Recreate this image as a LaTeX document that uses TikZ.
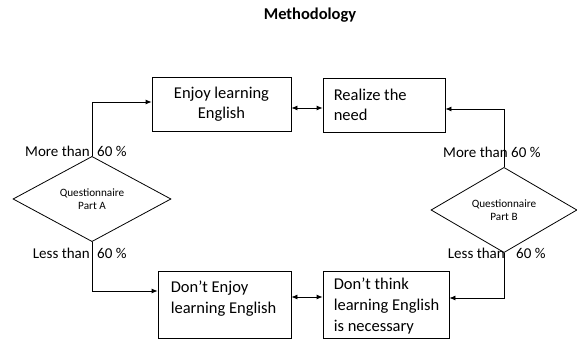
\documentclass[tikz,border=0pt]{standalone}
\usepackage{fontspec}
\setmainfont{Carlito}
\usetikzlibrary{shapes.geometric,arrows.meta}
\begin{document}
\begin{tikzpicture}[x=1pt,y=-1pt,
  boxst/.style={draw,line width=0.8pt,inner sep=0pt},
  txt/.style={inner sep=0pt,align=left,anchor=west,font=\fontsize{16.5}{20.5}\selectfont},
  diam/.style={draw,diamond,line width=0.8pt,inner sep=0pt,font=\fontsize{11.2}{13}\selectfont,align=center},
  lab/.style={font=\fontsize{15}{17}\selectfont,inner sep=0pt},
  conn/.style={line width=0.8pt,-{Latex[length=6pt,width=5pt]}},
  dconn/.style={line width=0.8pt,{Latex[length=6pt,width=5pt]}-{Latex[length=6pt,width=5pt]}}]
\useasboundingbox (0,0) rectangle (577,344);
\node[font=\bfseries\fontsize{16.5}{18}\selectfont] (title) at (310,15) {Methodology};
\node[boxst,minimum width=139pt,minimum height=54pt,align=center,font=\fontsize{16.5}{20.5}\selectfont] (b1) at (221.5,104) {Enjoy learning\\English};
\node[boxst,minimum width=122pt,minimum height=54pt] (b2) at (384,105) {};
\node[txt] (t2) at ([xshift=11pt,yshift=0pt]b2.west) {Realize the\\need};
\node[boxst,minimum width=133pt,minimum height=67pt] (b3) at (224.5,304.5) {};
\node[txt] (t3) at ([xshift=13pt,yshift=6pt]b3.west) {Don’t Enjoy\\learning English};
\node[boxst,minimum width=126pt,minimum height=67pt] (b4) at (386,304.5) {};
\node[txt,font=\fontsize{16.5}{21}\selectfont] (t4) at ([xshift=11pt,yshift=-2pt]b4.west) {Don’t think\\learning English\\is necessary};
\node[diam,minimum width=158pt,minimum height=72pt] (da) at (92,199) {Questionnaire\\Part A};
\node[diam,minimum width=146pt,minimum height=66pt] (db) at (504,210) {Questionnaire\\Part B};
\draw[conn] (da.north) |- (b1.west |- 0,102);
\draw[conn] (da.south) |- (b3.west |- 0,291);
\draw[conn] (db.north) |- (b2.east |- 0,109);
\draw[conn] (db.south) |- (b4.east |- 0,298);
\draw[dconn] (b1.east |- 0,108) -- (b2.west |- 0,108);
\draw[dconn] (b3.east |- 0,297) -- (b4.west |- 0,297);
\node[lab,anchor=east] (l1) at (90,151) {More than};
\node[lab,anchor=west] (l2) at (97,151) {60 \%};
\node[lab,anchor=east] (l3) at (90,253) {Less than};
\node[lab,anchor=west] (l4) at (97,253) {60 \%};
\node[lab,anchor=east] (l5) at (508,152) {More than};
\node[lab,anchor=west] (l6) at (511,152) {60 \%};
\node[lab,anchor=east] (l7) at (505,253) {Less than};
\node[lab,anchor=west] (l8) at (516,253) {60 \%};
\end{tikzpicture}
\end{document}
